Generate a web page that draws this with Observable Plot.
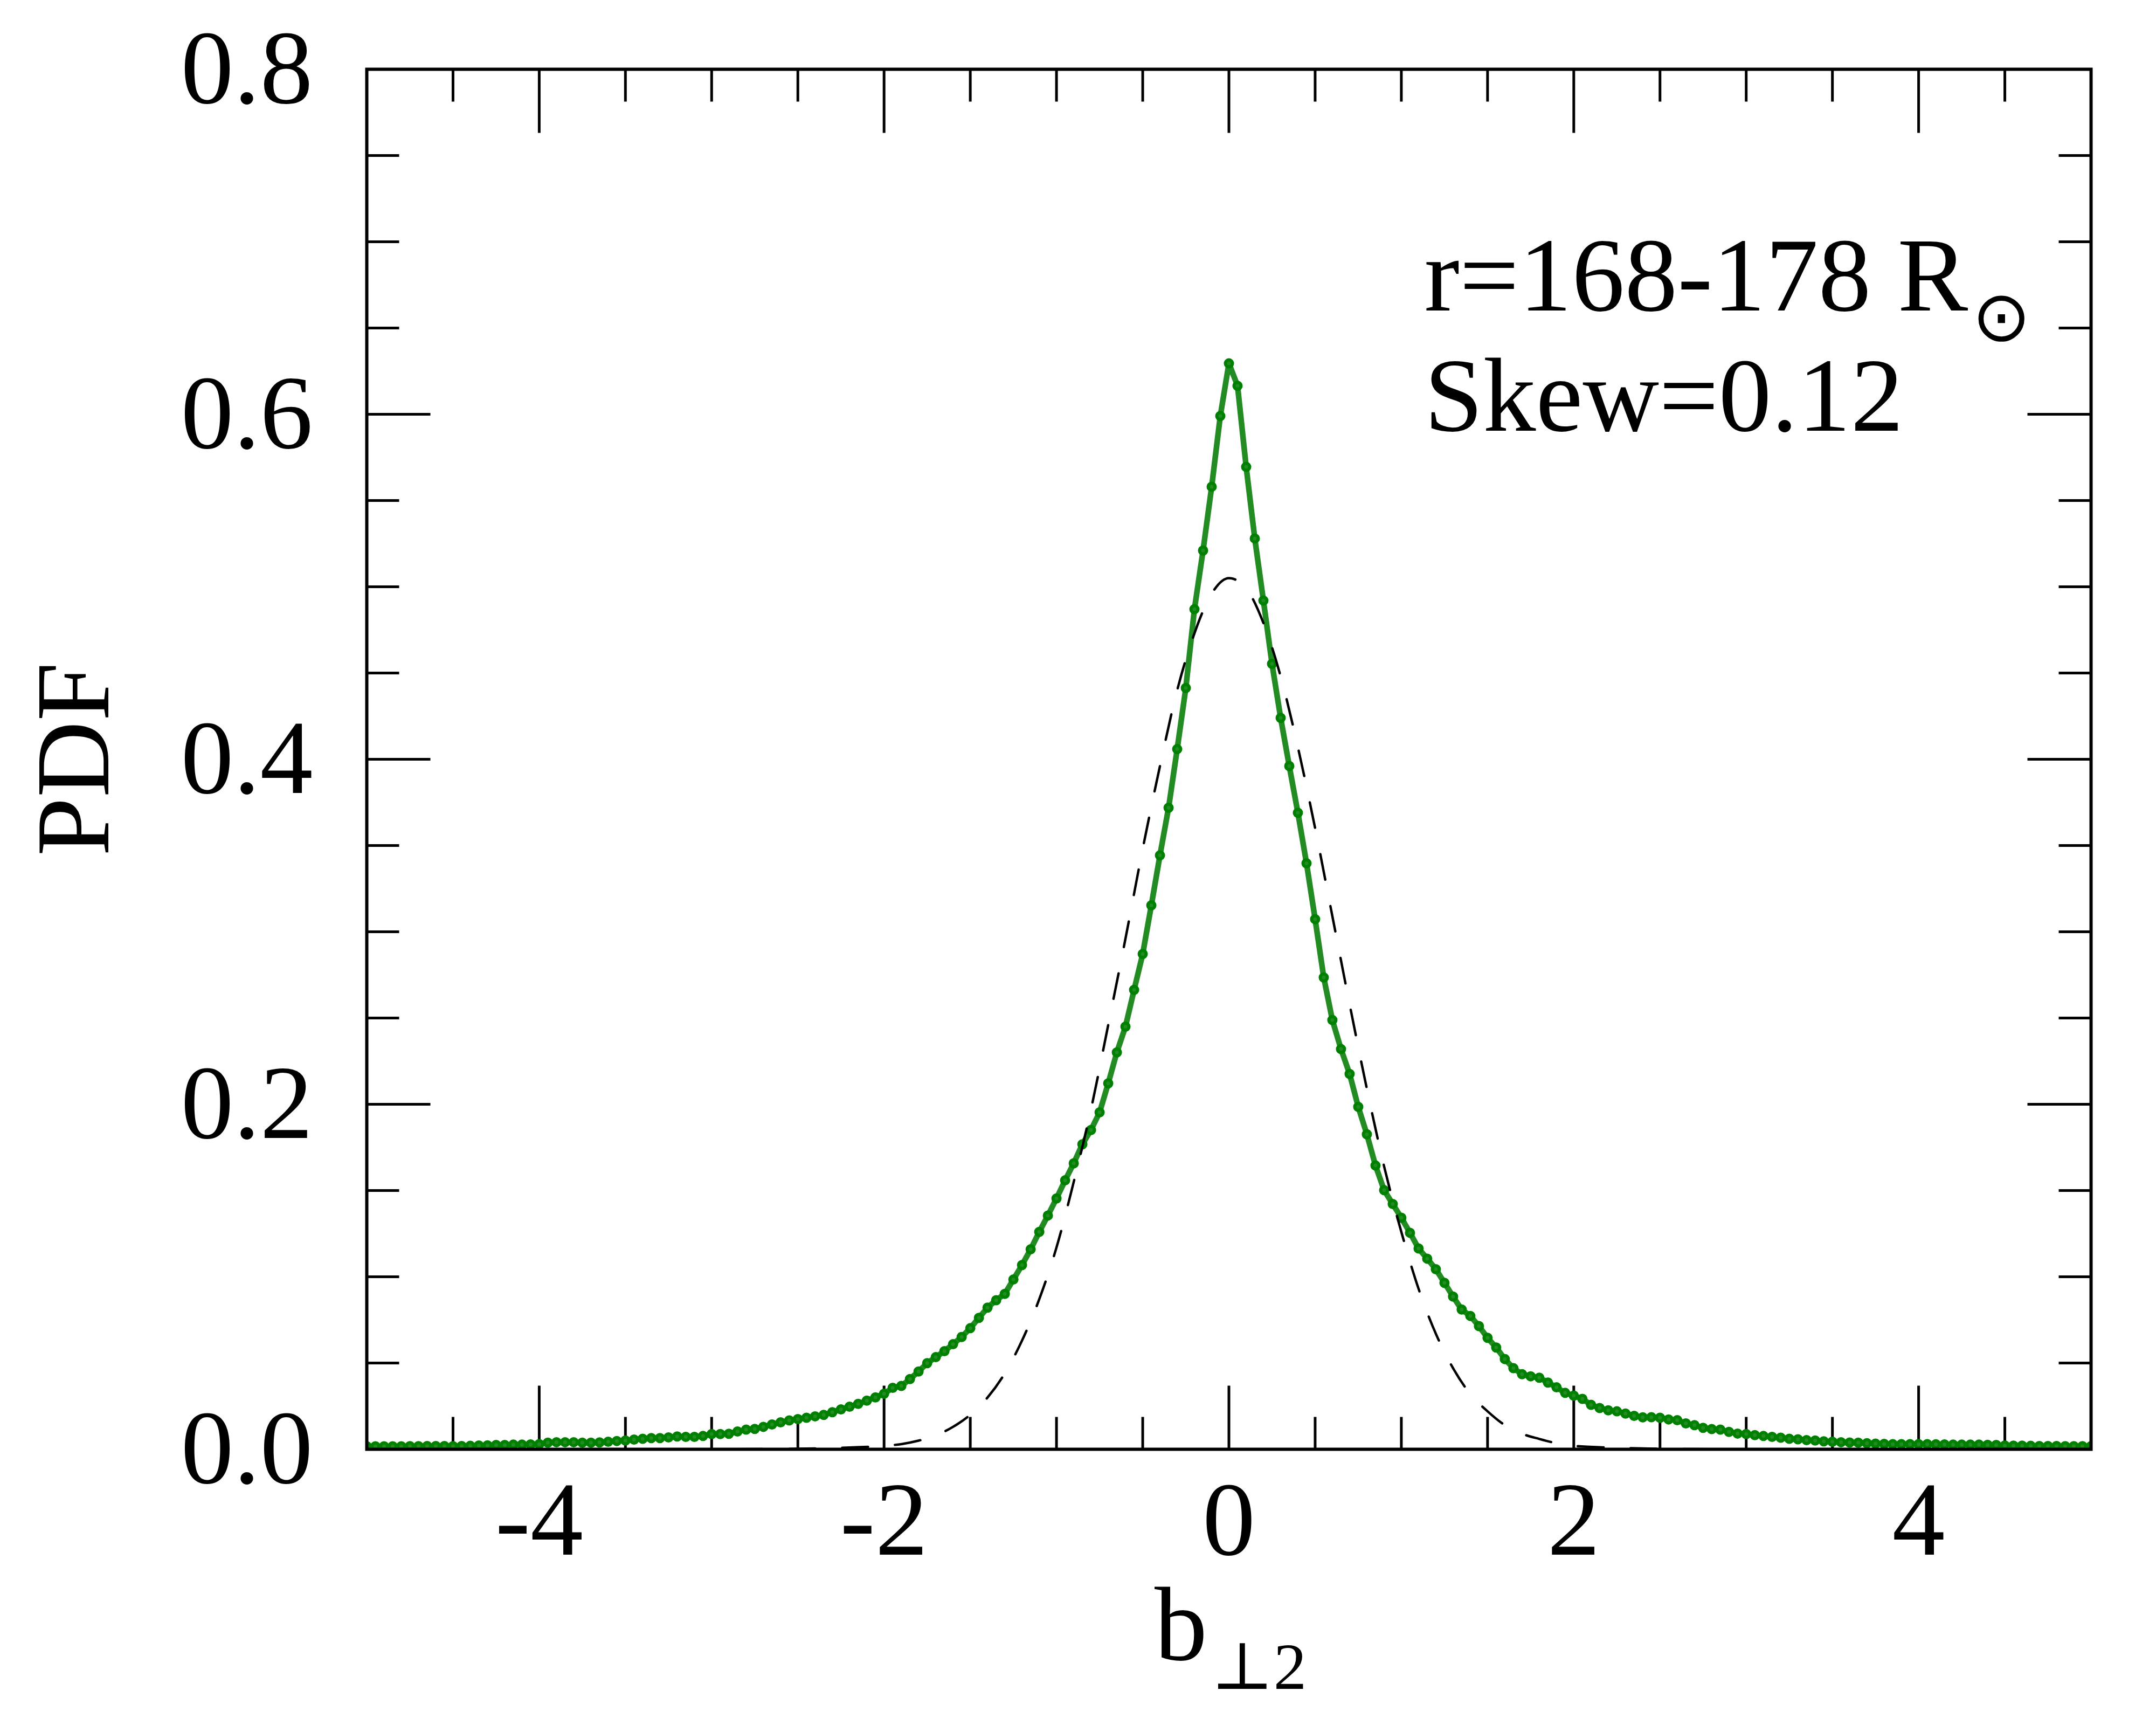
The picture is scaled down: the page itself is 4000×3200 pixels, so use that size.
<!DOCTYPE html>
<html>
<head>
<meta charset="utf-8">
<script src="https://cdn.jsdelivr.net/npm/d3@7"></script>
<script src="https://cdn.jsdelivr.net/npm/@observablehq/plot@0.6"></script>
<style>
  html, body { margin: 0; padding: 0; background: #ffffff; }
  #chart svg { display: block; }
</style>
</head>
<body>
<div id="chart"></div>
<script>
// ---- data ----
// bin grid of b_perp2: -5 .. 5 in steps of 0.05 (201 bins)
const b2Grid = d3.range(201).map(i => +(-5 + i * 0.05).toFixed(2));

// measured PDF (green) at each bin
const pdfValues = [
  0.0017, 0.0017, 0.0017, 0.0017, 0.0017, 0.0018, 0.0018, 0.0019, 0.0019, 0.0019,
  0.0018, 0.0019, 0.0020, 0.0022, 0.0023, 0.0025, 0.0025, 0.0027, 0.0027, 0.0028,
  0.0030, 0.0038, 0.0041, 0.0041, 0.0041, 0.0038, 0.0038, 0.0040, 0.0044, 0.0048,
  0.0051, 0.0056, 0.0061, 0.0065, 0.0065, 0.0069, 0.0074, 0.0072, 0.0072, 0.0077,
  0.0088, 0.0088, 0.0090, 0.0103, 0.0114, 0.0118, 0.0130, 0.0144, 0.0156, 0.0167,
  0.0175, 0.0183, 0.0191, 0.0199, 0.0215, 0.0231, 0.0247, 0.0263, 0.0282, 0.0301,
  0.0322, 0.0356, 0.0367, 0.0407, 0.0451, 0.0499, 0.0534, 0.0569, 0.0609, 0.0651,
  0.0702, 0.0762, 0.0821, 0.0864, 0.0901, 0.0984, 0.1068, 0.1159, 0.1260, 0.1355,
  0.1454, 0.1559, 0.1658, 0.1768, 0.1851, 0.1953, 0.2121, 0.2301, 0.2450, 0.2663,
  0.2871, 0.3153, 0.3443, 0.3719, 0.4059, 0.4413, 0.4870, 0.5210, 0.5580, 0.5990,
  0.6295,
  0.6165, 0.5695, 0.5280, 0.4920, 0.4553, 0.4240, 0.3961, 0.3690, 0.3397, 0.3073,
  0.2735, 0.2488, 0.2320, 0.2176, 0.1985, 0.1826, 0.1645, 0.1502, 0.1422, 0.1342,
  0.1255, 0.1164, 0.1105, 0.1044, 0.0965, 0.0885, 0.0810, 0.0773, 0.0714, 0.0646,
  0.0590, 0.0523, 0.0470, 0.0435, 0.0423, 0.0415, 0.0387, 0.0359, 0.0327, 0.0311,
  0.0292, 0.0258, 0.0239, 0.0226, 0.0220, 0.0207, 0.0194, 0.0185, 0.0186, 0.0183,
  0.0173, 0.0169, 0.0150, 0.0140, 0.0124, 0.0117, 0.0114, 0.0101, 0.0091, 0.0088,
  0.0082, 0.0077, 0.0072, 0.0067, 0.0061, 0.0058, 0.0053, 0.0051, 0.0046, 0.0044,
  0.0041, 0.0039, 0.0038, 0.0035, 0.0033, 0.0031, 0.0030, 0.0030, 0.0030, 0.0030,
  0.0030, 0.0029, 0.0028, 0.0027, 0.0027, 0.0027, 0.0027, 0.0026, 0.0025, 0.0022,
  0.0021, 0.0021, 0.0020, 0.0019, 0.0019, 0.0019, 0.0018, 0.0018, 0.0018, 0.0018
];

// Gaussian reference curve (dashed)
const gaussX = [-5, -3, -2.5, -2.2, -2.0, -1.9, -1.8, -1.7, -1.6, -1.5, -1.4, -1.3, -1.2, -1.1,
  -1.0, -0.9, -0.8, -0.7, -0.6, -0.5, -0.4, -0.3, -0.2, -0.1, 0,
  0.1, 0.2, 0.3, 0.4, 0.5, 0.6, 0.7, 0.8, 0.9, 1.0, 1.1, 1.2, 1.3, 1.4, 1.5, 1.6, 1.7,
  1.8, 1.9, 2.0, 2.2, 2.5, 3, 5];
const gaussY = [0, 0.00005, 0.0003, 0.001, 0.002, 0.003, 0.005, 0.008, 0.013, 0.020, 0.030, 0.044, 0.063, 0.087,
  0.117, 0.155, 0.197, 0.246, 0.296, 0.348, 0.396, 0.440, 0.473, 0.496, 0.505,
  0.499, 0.479, 0.448, 0.407, 0.360, 0.309, 0.258, 0.209, 0.164, 0.126, 0.093, 0.067, 0.047, 0.032, 0.022, 0.014, 0.009,
  0.006, 0.0035, 0.002, 0.001, 0.0003, 0.00005, 0];

// axis ticks and labels
const xMajorTicks = [-4, -2, 0, 2, 4];
const xMinorTicks = [-4.5, -3.5, -3, -2.5, -1.5, -1, -0.5, 0.5, 1, 1.5, 2.5, 3, 3.5, 4.5];
const xTickLabels = ["-4", "-2", "0", "2", "4"];
const yMajorTicks = [0, 0.2, 0.4, 0.6, 0.8];
const yMinorTicks = [0.05, 0.1, 0.15, 0.25, 0.3, 0.35, 0.45, 0.5, 0.55, 0.65, 0.7, 0.75];
const yTickLabels = ["0.0", "0.2", "0.4", "0.6", "0.8"];

// annotation
const annotLine1 = "r=168-178 R";
const annotSun = "\u2299";
const annotLine2 = "Skew=0.12";
const annotX = 1.133, annotY1 = 0.6603, annotY2 = 0.5906;
const sunX = 4.48, sunY = 0.6556;

// ---- build ----
const pdfData = b2Grid.map((x, i) => ({x, y: pdfValues[i]}));
const gaussData = gaussX.map((x, i) => ({x, y: gaussY[i]}));

const serif = "Liberation Serif, Times New Roman, DejaVu Serif, serif";
const FS = 196;
const tickShape = { draw(ctx, l) { ctx.moveTo(0, 0); ctx.lineTo(0, -l); } };
const tk = (data, opts) => Plot.vector(data, {
  shape: tickShape, anchor: "start", stroke: "black", strokeWidth: 5,
  strokeLinecap: "butt", ...opts
});

const marks = [];
// ticks on all four sides (inward)
for (const [data, len] of [[xMajorTicks, 118], [xMinorTicks, 60]]) {
  marks.push(tk(data, {x: d => d, frameAnchor: "bottom", length: len, rotate: 0}));
  marks.push(tk(data, {x: d => d, frameAnchor: "top", length: len, rotate: 180}));
}
for (const [data, len] of [[yMajorTicks, 118], [yMinorTicks, 60]]) {
  marks.push(tk(data, {y: d => d, frameAnchor: "left", length: len, rotate: 90}));
  marks.push(tk(data, {y: d => d, frameAnchor: "right", length: len, rotate: -90}));
}

marks.push(
  Plot.line(pdfData, {x: "x", y: "y", stroke: "#228B22", strokeWidth: 10.5, clip: true}),
  Plot.dot(pdfData, {x: "x", y: "y", r: 6.5, fill: "#228B22", stroke: "#008000", strokeWidth: 6, clip: true}),
  Plot.line(gaussData, {x: "x", y: "y", stroke: "black", strokeWidth: 4.5, strokeDasharray: "48,50", curve: "monotone-x", clip: true}),
  Plot.frame({stroke: "black", strokeWidth: 6}),
  // tick labels
  Plot.text(xMajorTicks, {x: d => d, text: (d, i) => xTickLabels[i], frameAnchor: "bottom", dy: 195,
    lineAnchor: "bottom", textAnchor: "middle", fontSize: FS, fontFamily: serif, fill: "black"}),
  Plot.text(yMajorTicks, {y: d => d, text: (d, i) => yTickLabels[i], frameAnchor: "left", dx: -100,
    lineAnchor: "middle", textAnchor: "end", fontSize: FS, fontFamily: serif, fill: "black"}),
  // axis titles
  Plot.text(["PDF"], {text: d => d, frameAnchor: "left", dx: -480, rotate: -90, textAnchor: "middle",
    lineAnchor: "bottom", fontSize: FS, fontFamily: serif, fill: "black"}),
  Plot.text(["b"], {text: d => d, frameAnchor: "bottom", dx: -40, dy: 390, textAnchor: "end",
    lineAnchor: "bottom", fontSize: FS, fontFamily: serif, fill: "black"}),
  Plot.text(["\u22A52"], {text: d => d, frameAnchor: "bottom", dx: -33, dy: 444, textAnchor: "start",
    lineAnchor: "bottom", fontSize: 123, fontFamily: serif, fill: "black"}),
  // annotation
  Plot.text([annotLine1], {text: d => d, x: annotX, y: annotY1, textAnchor: "start", lineAnchor: "bottom",
    fontSize: FS, fontFamily: serif, fill: "black"}),
  Plot.text([annotLine2], {text: d => d, x: annotX, y: annotY2, textAnchor: "start", lineAnchor: "bottom",
    fontSize: FS, fontFamily: serif, fill: "black"}),
  Plot.text([annotSun], {text: d => d, x: sunX, y: sunY, textAnchor: "middle", lineAnchor: "middle",
    fontSize: 130, fontFamily: "DejaVu Sans, sans-serif", fill: "black"})
);

const chart = Plot.plot({
  width: 4000,
  height: 3200,
  marginLeft: 680,
  marginRight: 121,
  marginTop: 128,
  marginBottom: 512,
  style: {background: "white", overflow: "visible"},
  x: {domain: [-5, 5], axis: null},
  y: {domain: [0, 0.8], axis: null},
  marks
});
document.getElementById("chart").append(chart);
</script>
</body>
</html>
